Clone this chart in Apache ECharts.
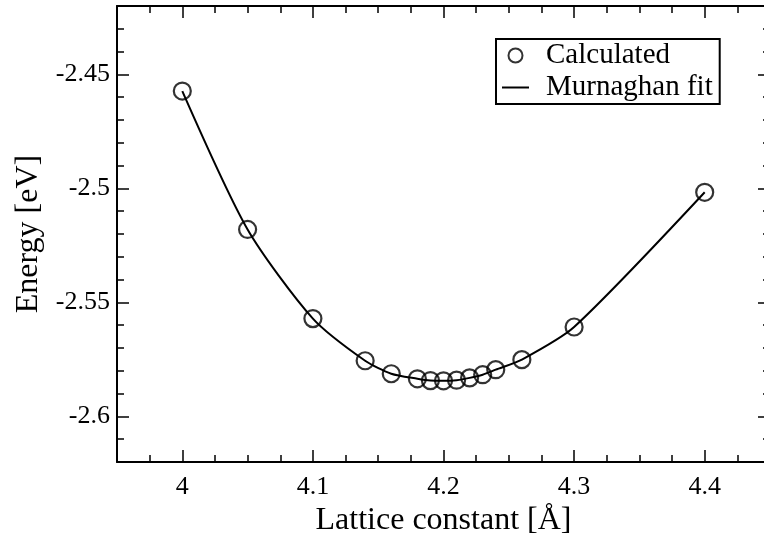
<!DOCTYPE html>
<html>
<head>
<meta charset="utf-8">
<script src="https://cdn.jsdelivr.net/npm/echarts@6/dist/echarts.min.js"></script>
<style>
html,body{margin:0;padding:0;background:#fff;}
#chart{width:764px;height:537px;}
</style>
</head>
<body>
<div id="chart"></div>
<script>
// Data
var latticeConstant = [4.00, 4.05, 4.10, 4.14, 4.16, 4.18, 4.19, 4.20, 4.21, 4.22, 4.23, 4.24, 4.26, 4.30, 4.40];
var energyCalculated = [-2.4573, -2.5180, -2.5571, -2.5756, -2.5813, -2.5835, -2.5843, -2.5844, -2.5841, -2.5831, -2.5817, -2.5795, -2.5751, -2.5608, -2.5017];
var seriesNames = ['Calculated', 'Murnaghan fit'];
var xTitle = 'Lattice constant [Å]';
var yTitle = 'Energy [eV]';
var xRange = [3.95, 4.45];
var yRange = [-2.62, -2.42];

var FONT = 'Liberation Serif';
var pts = latticeConstant.map(function (x, i) { return [x, energyCalculated[i]]; });

function majorAxis(pos, withLabels, extra) {
  var o = {
    type: 'value', position: pos, gridIndex: 0,
    axisLine: { show: true, onZero: false, lineStyle: { color: '#000', width: 2 } },
    axisTick: { show: true, inside: true, length: 12, lineStyle: { color: '#000', width: 1.5 } },
    axisLabel: { show: withLabels, showMinLabel: false, showMaxLabel: false, color: '#000', fontFamily: FONT, fontSize: 26 },
    splitLine: { show: false }
  };
  for (var k in extra) o[k] = extra[k];
  return o;
}
function minorAxis(pos, interval, extra) {
  var o = {
    type: 'value', position: pos, gridIndex: 0, interval: interval,
    axisLine: { show: false },
    axisTick: { show: true, inside: true, length: 7, lineStyle: { color: '#000', width: 1.5 } },
    axisLabel: { show: false },
    splitLine: { show: false }
  };
  for (var k in extra) o[k] = extra[k];
  return o;
}

var chart = echarts.init(document.getElementById('chart'), null, { renderer: 'canvas' });
chart.setOption({
  backgroundColor: '#fff',
  animation: false,
  textStyle: { fontFamily: FONT },
  grid: { left: 117, top: 6, width: 653, height: 456, containLabel: false, outerBoundsMode: 'none' },
  xAxis: [
    majorAxis('bottom', true, { min: xRange[0], max: xRange[1], name: xTitle, nameLocation: 'middle', nameGap: 30,
      nameTextStyle: { color: '#000', fontFamily: FONT, fontSize: 32 }, axisLabel: { show: true, showMinLabel: false, showMaxLabel: false, margin: 12, color: '#000', fontFamily: FONT, fontSize: 26 } }),
    minorAxis('bottom', 0.025, { min: xRange[0], max: xRange[1] }),
    majorAxis('top', false, { min: xRange[0], max: xRange[1] }),
    minorAxis('top', 0.025, { min: xRange[0], max: xRange[1] })
  ],
  yAxis: [
    majorAxis('left', true, { min: yRange[0], max: yRange[1], name: yTitle, nameLocation: 'middle', nameGap: 70,
      nameTextStyle: { color: '#000', fontFamily: FONT, fontSize: 32 }, axisLabel: { show: true, showMinLabel: false, showMaxLabel: false, margin: 7, color: '#000', fontFamily: FONT, fontSize: 26 } }),
    minorAxis('left', 0.01, { min: yRange[0], max: yRange[1] }),
    majorAxis('right', false, { min: yRange[0], max: yRange[1] }),
    minorAxis('right', 0.01, { min: yRange[0], max: yRange[1] })
  ],
  legend: {
    left: 496, top: 39, orient: 'vertical',
    data: [
      { name: seriesNames[0] },
      { name: seriesNames[1], itemStyle: { opacity: 0 } }
    ],
    borderColor: '#000', borderWidth: 2, borderRadius: 0,
    padding: [2, 7, 2, 5],
    itemGap: 3, itemWidth: 27, itemHeight: 14,
    textStyle: { color: '#000', fontFamily: FONT, fontSize: 29, lineHeight: 23, padding: [0, 0, 0, 12] }
  },
  series: [
    {
      name: seriesNames[0], type: 'scatter', xAxisIndex: 0, yAxisIndex: 0,
      data: pts, symbol: 'circle', symbolSize: 17, z: 3,
      itemStyle: { color: 'rgba(255,255,255,0)', borderColor: '#000', borderWidth: 2.2 }
    },
    {
      name: seriesNames[1], type: 'line', xAxisIndex: 0, yAxisIndex: 0,
      data: pts, smooth: 0.25, symbol: 'none', z: 2,
      lineStyle: { color: '#000', width: 2 }, itemStyle: { color: '#000' }
    }
  ]
});
</script>
</body>
</html>
